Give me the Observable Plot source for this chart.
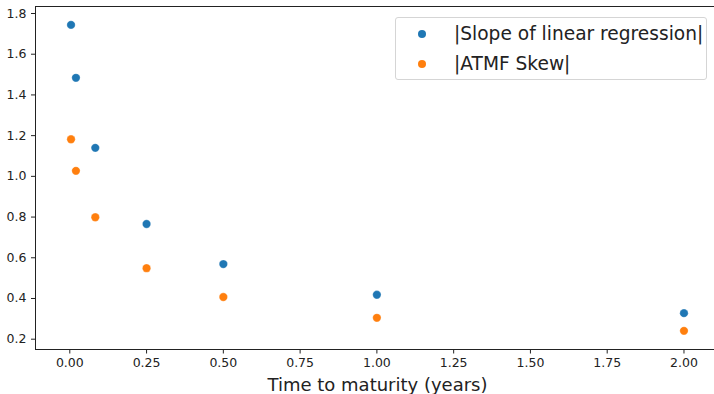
<!DOCTYPE html>
<html>
<head>
<meta charset="utf-8">
<script src="https://cdn.jsdelivr.net/npm/d3@7"></script>
<script src="https://cdn.jsdelivr.net/npm/@observablehq/plot@0.6"></script>
<style>
  body { margin: 0; background: #fff; }
  #wrap { position: relative; width: 714px; height: 394px; font-family: "DejaVu Sans", sans-serif; }
  #legend {
    position: absolute; left: 395px; top: 17px; width: 312px; height: 63px;
    border: 1px solid #d5d5d5; border-radius: 3px; background: rgba(255,255,255,0.8);
    box-sizing: border-box; padding-top: 1px;
  }
  .row { height: 30px; position: relative; font-size: 18.6px; color: #222; }
  .row .mk { position: absolute; left: 22px; top: 11px; width: 8px; height: 8px; border-radius: 50%; }
  .row .tx { position: absolute; left: 58px; top: 0; line-height: 30px; white-space: nowrap; }
</style>
</head>
<body>
<div id="wrap"></div>
<script>
const maturities = [0.004, 0.02, 0.083, 0.25, 0.5, 1.0, 2.0];
const slopeAbs = [1.744, 1.484, 1.140, 0.766, 0.569, 0.418, 0.328];
const skewAbs  = [1.182, 1.027, 0.799, 0.549, 0.407, 0.305, 0.241];
const seriesNames = ["|Slope of linear regression|", "|ATMF Skew|"];
const seriesColors = ["#1f77b4", "#ff7f0e"];
const xTicks = [0, 0.25, 0.5, 0.75, 1.0, 1.25, 1.5, 1.75, 2.0];
const yTicks = [0.2, 0.4, 0.6, 0.8, 1.0, 1.2, 1.4, 1.6, 1.8];
const xLabel = "Time to maturity (years)";

const data = [];
maturities.forEach((t, i) => {
  data.push({t, v: slopeAbs[i], s: seriesNames[0]});
});
maturities.forEach((t, i) => {
  data.push({t, v: skewAbs[i], s: seriesNames[1]});
});

const chart = Plot.plot({
  width: 714,
  height: 394,
  marginLeft: 35,
  marginRight: -5,
  marginTop: 6,
  marginBottom: 45,
  style: {fontFamily: "DejaVu Sans, sans-serif", background: "#fff"},
  x: {domain: [-0.1117, 2.1157]},
  y: {domain: [0.1494, 1.8344]},
  color: {domain: seriesNames, range: seriesColors},
  marks: [
    Plot.frame({stroke: "#222", strokeWidth: 1}),
    Plot.axisX({ticks: xTicks, tickFormat: d3.format(".2f"), tickSize: 4.5, tickPadding: 4, fontSize: 12.5, color: "#222", label: null}),
    Plot.axisY({ticks: yTicks, tickFormat: d3.format(".1f"), tickSize: 4, tickPadding: 5, fontSize: 12.5, color: "#222", label: null}),
    Plot.dot(data, {x: "t", y: "v", fill: "s", r: 4.2, stroke: "white", strokeWidth: 0.3}),
    Plot.text([xLabel], {frameAnchor: "bottom", text: d => d, dy: 41, lineAnchor: "bottom", fontSize: 18, fill: "#222"})
  ]
});

const wrap = document.getElementById("wrap");
wrap.appendChild(chart);
const legend = document.createElement("div");
legend.id = "legend";
seriesNames.forEach((n, i) => {
  const row = document.createElement("div");
  row.className = "row";
  const mk = document.createElement("span");
  mk.className = "mk";
  mk.style.background = seriesColors[i];
  const tx = document.createElement("span");
  tx.className = "tx";
  tx.textContent = n;
  row.appendChild(mk); row.appendChild(tx);
  legend.appendChild(row);
});
wrap.appendChild(legend);
</script>
</body>
</html>
